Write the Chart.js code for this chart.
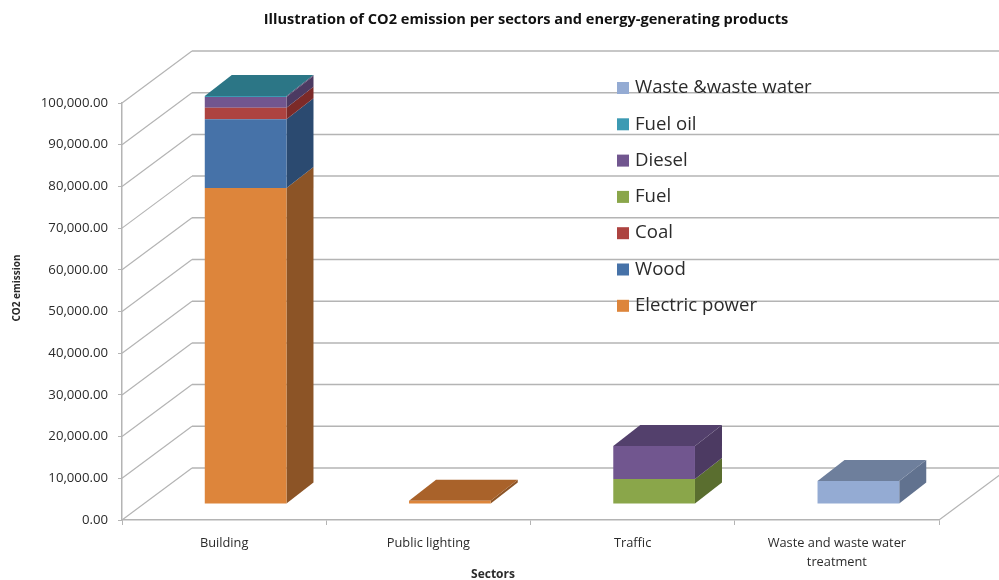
<!DOCTYPE html>
<html>
<head>
<meta charset="utf-8">
<title>CO2 emission per sector</title>
<script src="https://cdn.jsdelivr.net/npm/chart.js@4/dist/chart.umd.js"></script>
<style>
    html, body { margin: 0; padding: 0; background: #fff; }
    canvas { display: block; }
</style>
</head>
<body>
<canvas id="emission-chart" width="999" height="580"></canvas>
<script>
// Emissions by sector, one array per energy product
const sectors = ['Building', 'Public lighting', 'Traffic', ['Waste and waste water', 'treatment']];
const electricPower = [75800, 800, 0, 0];
const wood = [16500, 0, 0, 0];
const coal = [2700, 0, 0, 0];
const fuel = [0, 0, 6000, 0];
const diesel = [2600, 0, 7900, 0];
const fuelOil = [250, 0, 0, 0];
const wasteWater = [0, 0, 0, 5500];

const axisMax = 100000;
const axisStep = 10000;

// front, side and top shade of each product
const products = [
    { label: 'Electric power', values: electricPower, front: '#dd853b', side: '#8c5426', top: '#a9622a' },
    { label: 'Wood', values: wood, front: '#4672a8', side: '#2b4a70', top: '#35588a' },
    { label: 'Coal', values: coal, front: '#ad4340', side: '#7c2a28', top: '#8c3432' },
    { label: 'Fuel', values: fuel, front: '#8aa64a', side: '#5a6e2f', top: '#6b8238' },
    { label: 'Diesel', values: diesel, front: '#71568f', side: '#4c3a62', top: '#53406c' },
    { label: 'Fuel oil', values: fuelOil, front: '#3c9ab3', side: '#4d3b66', top: '#2c7686' },
    { label: 'Waste &waste water', values: wasteWater, front: '#94abd3', side: '#61728f', top: '#6e7f9c' }
];

const gridColor = '#b4b4b4';
const textColor = '#2b2b2b';
const uiFont = '"Open Sans", sans-serif';

// walls behind the bars are pushed back by this much, bars sit part way in
const wallDepth = { x: 70, y: -52 };
const barShift = { x: 21.5, y: -16 };
const barDepth = { x: 27, y: -21 };

const fillPoly = (ctx, color, points) => {
    ctx.fillStyle = color;
    ctx.beginPath();
    points.forEach(([x, y], i) => i ? ctx.lineTo(x, y) : ctx.moveTo(x, y));
    ctx.closePath();
    ctx.fill();
};

const drawWalls = chart => {
    const { ctx, scales: { x: xScale, y: yScale } } = chart;
    const left = xScale.left;
    ctx.save();
    ctx.strokeStyle = gridColor;
    yScale.ticks.forEach(tick => {
        const py = yScale.getPixelForValue(tick.value);
        ctx.lineWidth = 1.5;
        ctx.beginPath();
        ctx.moveTo(left + wallDepth.x, py + wallDepth.y);
        ctx.lineTo(chart.width, py + wallDepth.y);
        ctx.stroke();
        ctx.lineWidth = 1.2;
        ctx.beginPath();
        ctx.moveTo(left, py);
        ctx.lineTo(left + wallDepth.x, py + wallDepth.y);
        ctx.stroke();
    });
    // floor edge on the right
    const floor = yScale.getPixelForValue(0);
    ctx.beginPath();
    ctx.moveTo(xScale.right, floor);
    ctx.lineTo(xScale.right + wallDepth.x, floor + wallDepth.y);
    ctx.stroke();
    ctx.restore();
};

const drawKey = chart => {
    const { ctx } = chart;
    ctx.save();
    ctx.font = '18.6px ' + uiFont;
    ctx.textBaseline = 'middle';
    [...products].reverse().forEach((item, i) => {
        const y = 88 + i * 36.3;
        ctx.fillStyle = item.front;
        ctx.fillRect(617, y - 6, 12, 12);
        ctx.fillStyle = textColor;
        ctx.fillText(item.label, 635, y);
    });
    ctx.restore();
};

const drawBarFaces = chart => {
    const { ctx } = chart;
    const topOfStack = {};
    products.forEach((item, d) => item.values.forEach((v, i) => { if (v > 0) topOfStack[i] = d; }));

    products.forEach((item, d) => {
        chart.getDatasetMeta(d).data.forEach((bar, i) => {
            if (!(item.values[i] > 0)) return;
            const { x, y, base, width } = bar.getProps(['x', 'y', 'base', 'width'], true);
            const l = x - width / 2;
            const r = x + width / 2;
            fillPoly(ctx, item.side, [
                [r, y], [r, base],
                [r + barDepth.x, base + barDepth.y], [r + barDepth.x, y + barDepth.y]
            ]);
            if (topOfStack[i] === d) {
                fillPoly(ctx, item.top, [
                    [l, y], [r, y],
                    [r + barDepth.x, y + barDepth.y], [l + barDepth.x, y + barDepth.y]
                ]);
            }
        });
    });
};

const box3d = {
    id: 'box3d',
    afterLayout(chart) {
        // nudge the title off the plot centre
        chart.titleBlock.left -= 4.5;
        chart.titleBlock.right -= 4.5;
    },
    beforeDatasetsDraw(chart) {
        const { ctx } = chart;
        drawWalls(chart);
        drawKey(chart);
        ctx.save();
        ctx.translate(barShift.x, barShift.y);
        drawBarFaces(chart);
    },
    afterDatasetsDraw(chart) {
        chart.ctx.restore();
    },
    afterDraw(chart) {
        const { ctx } = chart;
        ctx.save();
        ctx.fillStyle = textColor;
        ctx.textAlign = 'center';
        ctx.textBaseline = 'middle';
        ctx.font = 'bold 12px ' + uiFont;
        ctx.fillText('Sectors', 493, 575);
        ctx.font = 'bold 10px ' + uiFont;
        ctx.translate(17, 288);
        ctx.rotate(-Math.PI / 2);
        ctx.fillText('CO2 emission', 0, 0);
        ctx.restore();
    }
};

new Chart(document.getElementById('emission-chart').getContext('2d'), {
    type: 'bar',
    data: {
        labels: sectors,
        datasets: products.map(item => ({
            label: item.label,
            data: item.values,
            backgroundColor: item.front,
            barPercentage: 0.4,
            categoryPercentage: 1,
            clip: false
        }))
    },
    options: {
        responsive: false,
        animation: false,
        layout: { padding: { left: 0, right: 60, top: 0, bottom: 0 } },
        plugins: {
            legend: { display: false },
            tooltip: { enabled: false },
            title: {
                display: true,
                fullSize: false,
                text: 'Illustration of CO2 emission per sectors and energy-generating products',
                color: '#111',
                font: { family: uiFont, size: 14.6, weight: 'bold' },
                padding: { top: 11.5, bottom: 74 }
            }
        },
        scales: {
            x: {
                stacked: true,
                grid: { drawOnChartArea: false, tickLength: 5, color: gridColor },
                border: { color: gridColor, width: 1.5 },
                ticks: {
                    color: textColor,
                    font: { family: uiFont, size: 12.8, lineHeight: 1.5 },
                    padding: 9,
                    maxRotation: 0
                },
                afterFit: scale => { scale.height = 60; }
            },
            y: {
                stacked: true,
                min: 0,
                max: axisMax,
                grid: { drawOnChartArea: false, tickLength: 4, color: gridColor },
                border: { color: gridColor, width: 1.5 },
                ticks: {
                    stepSize: axisStep,
                    color: textColor,
                    padding: 10,
                    font: { family: uiFont, size: 13.2 },
                    callback: v => v.toLocaleString('en-US', { minimumFractionDigits: 2, maximumFractionDigits: 2 })
                },
                afterFit: scale => { scale.width = 122; }
            }
        }
    },
    plugins: [box3d]
});
</script>
</body>
</html>
